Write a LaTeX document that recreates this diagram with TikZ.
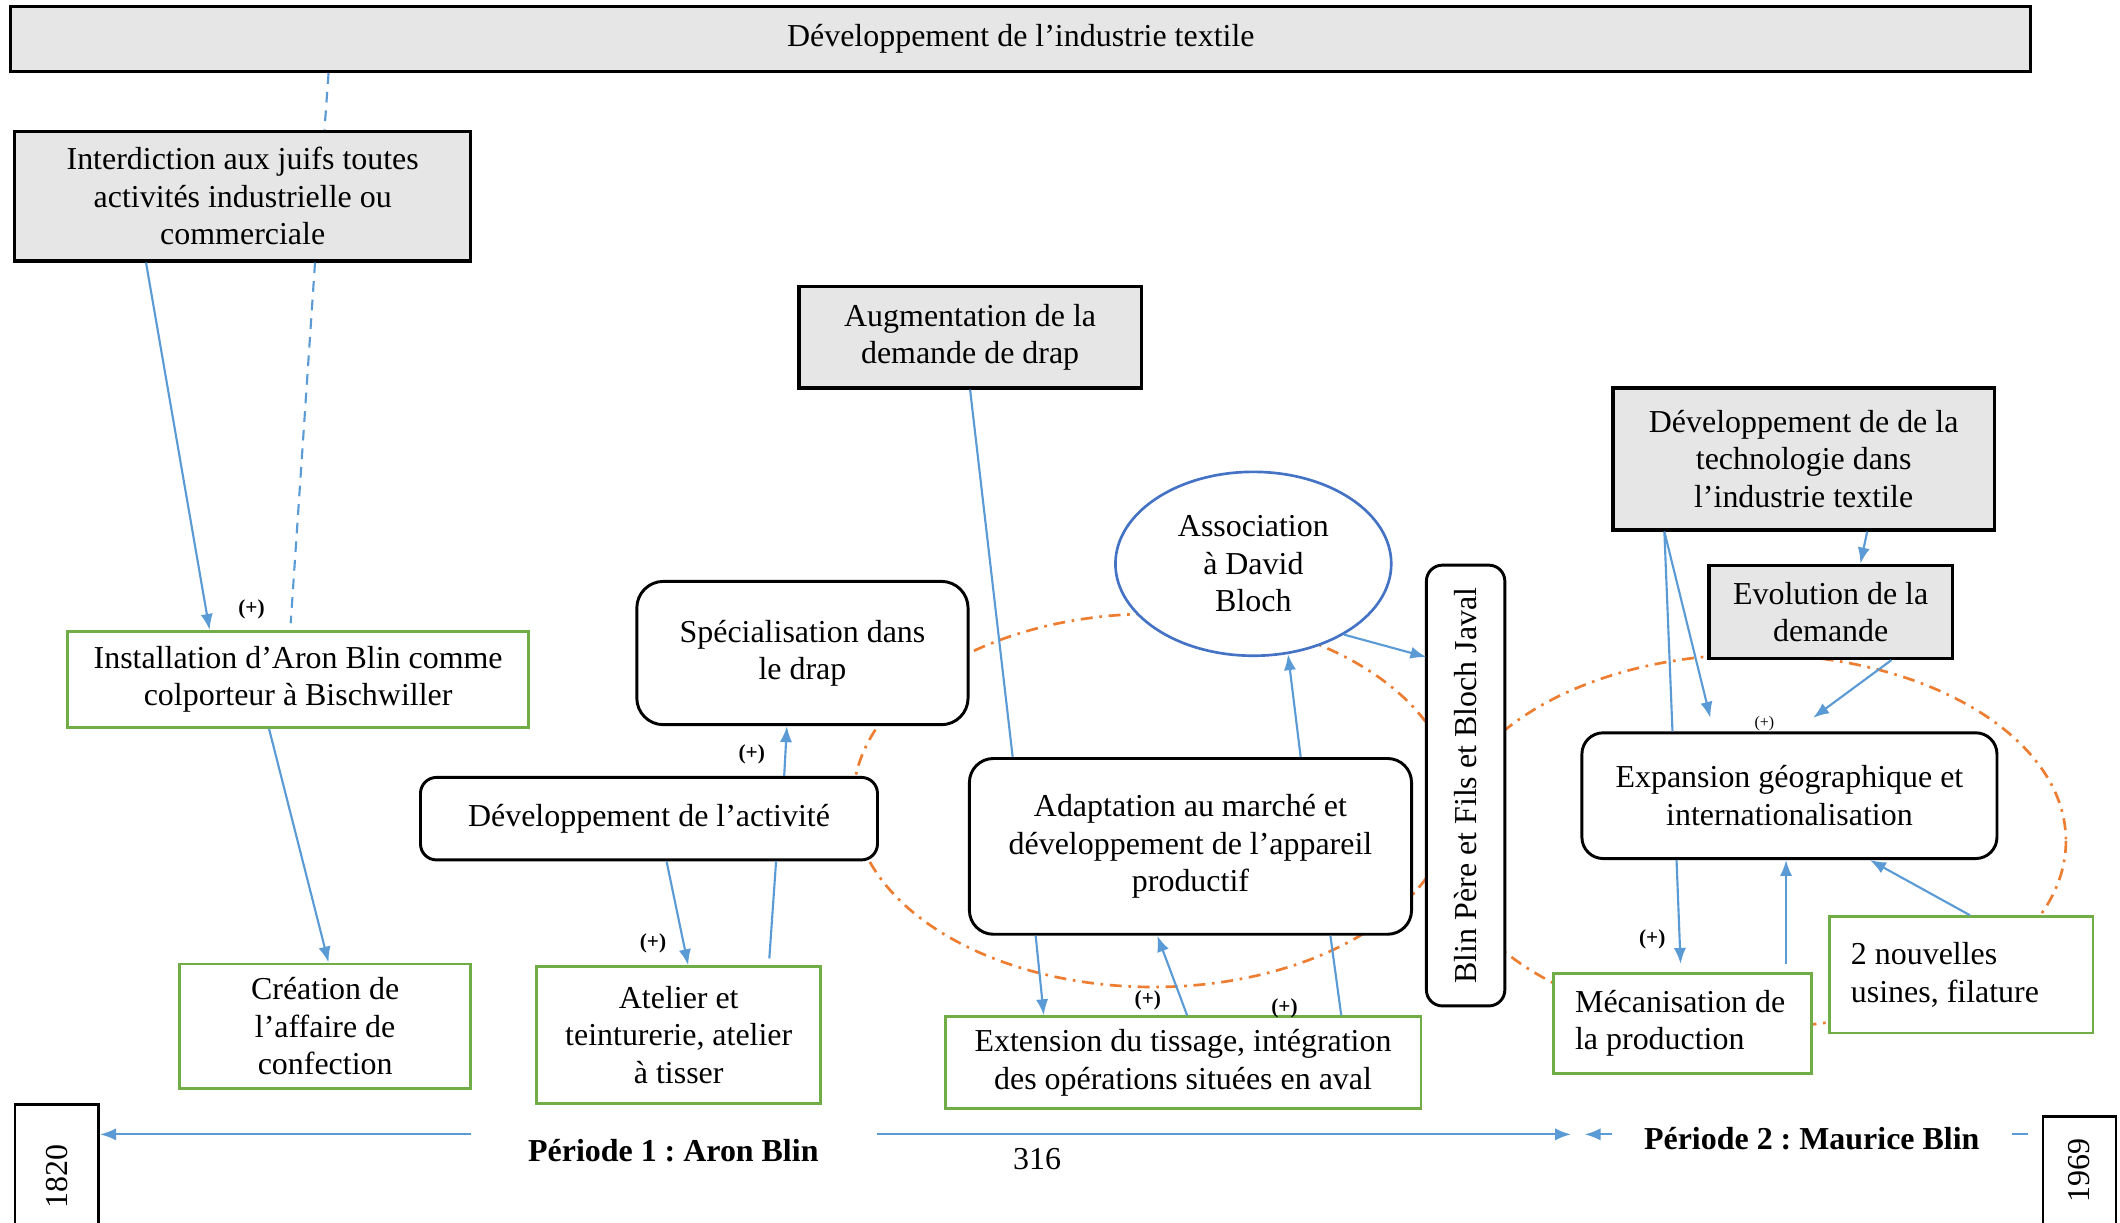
\documentclass[tikz,border=0pt]{standalone}
\usepackage{fontspec}
\setmainfont{Liberation Serif}
\frenchspacing
\usetikzlibrary{arrows.meta,calc,shapes.geometric}
\definecolor{linkblue}{HTML}{5B9BD5}
\definecolor{orng}{HTML}{ED7D31}
\definecolor{grn}{HTML}{70AD47}
\definecolor{ellblue}{HTML}{4472C4}
\definecolor{boxgray}{HTML}{E6E6E6}
\tikzset{
  every node/.style={font=\fontsize{12}{14}\selectfont, inner sep=0pt, align=center},
  sz/.style 2 args={minimum width=#1*0.508pt, minimum height=#2*0.508pt},
  graybox/.style={draw=black, line width=1.2pt, fill=boxgray, rectangle},
  greenbox/.style={draw=grn, line width=1.1pt, fill=white, rectangle},
  roundbox/.style={draw=black, line width=1.1pt, fill=white, rectangle, rounded corners=#1},
  yearbox/.style={draw=black, line width=1pt, fill=white, rectangle},
  link/.style={draw=linkblue, line width=0.8pt},
  arr/.style={link, -{Latex[length=6pt,width=4.6pt]}},
  dashlink/.style={link, dash pattern=on 4pt off 3pt},
  orangeloop/.style={draw=orng, line width=1pt, dash pattern=on 4.5pt off 2.5pt on 1pt off 2.5pt},
  pluslabel/.style={font=\fontsize{8}{9}\selectfont\bfseries},
  periodlabel/.style={font=\fontsize{12}{14}\selectfont\bfseries}
}
\begin{document}
\begin{tikzpicture}[x=0.508pt,y=-0.508pt]
\useasboundingbox (0,0) rectangle (1568,904);
\fill[white] (0,0) rectangle (1568,904);
\begin{scope}
\clip (0,0) rectangle (1568,904);

% feedback loops
\draw[orangeloop] (853,592) ellipse [x radius=222, y radius=138];
\draw[orangeloop] (1298,622) ellipse [x radius=230, y radius=138];

% nodes
\node[graybox, sz={1494}{48}] (top) at (755,29) {Développement de l’industrie textile};
\node[graybox, sz={337}{96}] (interd) at (179.5,145) {Interdiction aux juifs toutes\\activités industrielle ou\\commerciale};
\node[greenbox, sz={341}{71}] (install) at (220.5,502.5) {Installation d’Aron Blin comme\\colporteur à Bischwiller};
\node[greenbox, sz={215}{92}] (creation) at (240.5,759) {Création de\\l’affaire de\\confection};
\node[greenbox, sz={210}{101}] (atelier) at (502,765.5) {Atelier et\\teinturerie, atelier\\à tisser};
\node[roundbox=6pt, sz={338}{61}] (devact) at (480,605.5) {Développement de l’activité};
\node[roundbox=10pt, sz={245}{106}] (spec) at (593.5,483) {Spécialisation dans\\le drap};
\node[graybox, sz={253}{75}] (augm) at (717.5,249.5) {Augmentation de la\\demande de drap};
\node[ellipse, draw=ellblue, line width=1pt, fill=white, sz={204}{136}] (assoc) at (927,417) {Association\\à David\\Bloch};
\node[roundbox=6pt, rotate=90, sz={326}{58}] (blin) at (1084,581) {Blin Père et Fils et Bloch Javal};
\node[roundbox=9pt, sz={327}{130}] (adapt) at (880.5,626) {Adaptation au marché et\\développement de l’appareil\\productif};
\node[greenbox, sz={352}{68}] (ext) at (875,786) {Extension du tissage, intégration\\des opérations situées en aval};
\node[graybox, sz={282}{105}] (devtech) at (1334,339.5) {Développement de de la\\technologie dans\\l’industrie textile};
\node[graybox, sz={180}{69}] (evol) at (1354,452.5) {Evolution de la\\demande};
\node[roundbox=8pt, sz={307}{93}] (expan) at (1323.5,588.5) {Expansion géographique et\\internationalisation};
\node[greenbox, sz={191}{74}, align=flush left, text width=80.8pt, inner xsep=8.13pt] (meca) at (1244.5,757) {Mécanisation de\\la production};
\node[greenbox, sz={195}{86}, align=flush left, text width=82.8pt, inner xsep=8.13pt] (nouv) at (1450.5,721) {2 nouvelles\\usines, filature};
\node[yearbox, rotate=90, sz={106}{62}] (y1820) at (42,870) {1820};
\node[yearbox, rotate=90, sz={80}{54}] (y1969) at (1538,866) {1969};

% timeline
\coordinate (t1) at (348,839);
\coordinate (t2) at (649,839);
\coordinate (t3) at (1162,839);
\coordinate (t4) at (1192,839);
\coordinate (t5) at (1172,839);
\coordinate (t6) at (1488,839);
\coordinate (t7) at (1500,839);
\draw[arr] (t1) -- (y1820.south |- t1);
\draw[arr] (t2) -- (t3);
\draw[arr] (t4) -- (t5);
\draw[link] (t6) -- (t7);
\node[periodlabel] (p1) at (498,851) {Période 1 : Aron Blin};
\node[periodlabel] (p2) at (1340,842) {Période 2 : Maurice Blin};
\node (pagenum) at (767,857) {316};

% connectors
\draw[arr] ($(interd.south)+(-71.5,0)$) -- ($(install.north)+(-65.5,0)$);
\draw[dashlink] ($(top.south)+(-512,0)$) -- ($(interd.north)+(60.5,0)$);
\draw[dashlink] ($(interd.south)+(53.5,0)$) -- ($(install.north)+(-5.5,-5)$);
\draw[arr] ($(install.south)+(-21.5,0)$) -- ($(creation.north)+(2.5,0)$);
\draw[arr] ($(devact.north)+(100,0)$) -- ($(spec.south)+(-11.5,0)$);
\draw[arr] ($(devact.south)+(13,0)$) -- ($(atelier.north)+(7,0)$);
\draw[link] ($(atelier.north)+(67,-5)$) -- ($(devact.south)+(94,0)$);
\draw[link] (augm.south) -- ($(adapt.north)+(-131.5,0)$);
\draw[arr] ($(adapt.north)+(81.5,0)$) -- (assoc.-69);
\draw[arr] (assoc.-38) -- ($(blin.center)+(-29,-95)$);
\draw[arr] ($(adapt.south)+(-114.5,0)$) -- ($(ext.north)+(-103,0)$);
\draw[arr] ($(ext.north)+(3,0)$) -- ($(adapt.south)+(-24.5,0)$);
\draw[link] ($(ext.north)+(117,0)$) -- ($(adapt.south)+(103.5,0)$);
\draw[link] ($(devtech.south)+(-103,0)$) -- ($(expan.north)+(-86.5,0)$);
\draw[arr] ($(devtech.south)+(-103,0)$) -- ($(expan.north)+(-58.5,-10)$);
\draw[arr] ($(devtech.south)+(47,0)$) -- ($(evol.north)+(22,0)$);
\draw[arr] ($(evol.south)+(45,0)$) -- ($(expan.north)+(17.5,-10)$);
\draw[arr] ($(expan.south)+(-83.5,0)$) -- ($(meca.north)+(-1.5,-6)$);
\draw[arr] ($(meca.north)+(76.5,-6)$) -- ($(expan.south)+(-2.5,0)$);
\draw[arr] ($(nouv.north)+(6.5,0)$) -- ($(expan.south)+(59.5,0)$);

% (+) labels
\node[pluslabel] (pl1) at (186,451) {(+)};
\node[pluslabel] (pl2) at (556,558) {(+)};
\node[pluslabel] (pl3) at (483,698) {(+)};
\node[pluslabel] (pl4) at (849,740) {(+)};
\node[pluslabel] (pl5) at (950,746) {(+)};
\node[pluslabel] (pl6) at (1222,695) {(+)};
\node[font=\fontsize{6}{7}\selectfont] (pl7) at (1305,535) {(+)};
\end{scope}
\end{tikzpicture}
\end{document}
